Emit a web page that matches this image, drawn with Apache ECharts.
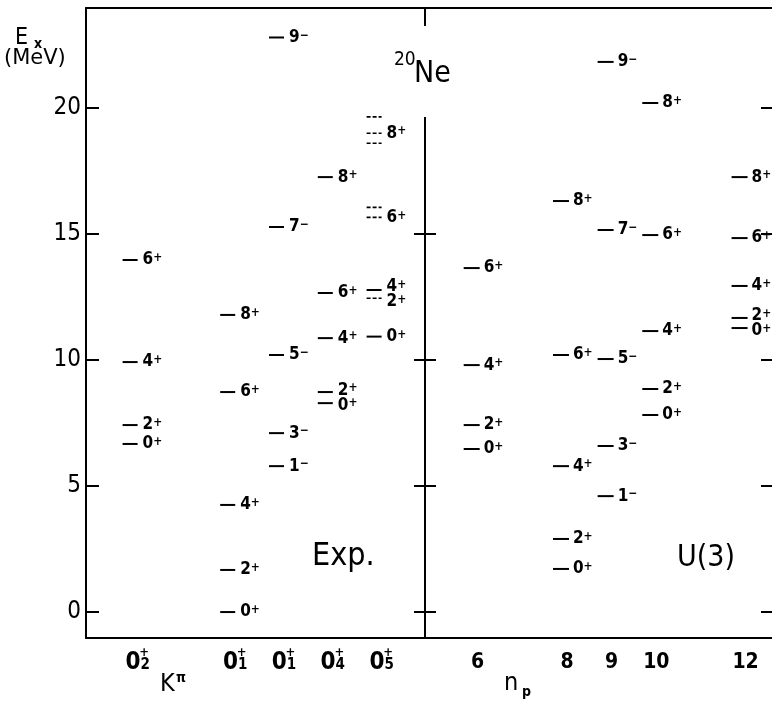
<!DOCTYPE html>
<html><head><meta charset="utf-8">
<script src="https://cdn.jsdelivr.net/npm/echarts@6/dist/echarts.min.js"></script>
<style>html,body{margin:0;padding:0;background:#fff}#c{width:772px;height:702px}</style>
</head><body><div id="c"></div>
<script>
// ---------------- data ----------------
const yTicks = [0, 5, 10, 15, 20];
// K^pi band categories of the experimental panel ('' = empty slot)
const expBands = ['0₂⁺', '', '0₁⁺', '0₁⁺', '0₄⁺', '0₅⁺'];
// experimental levels: [band index, Ex (MeV), spin-parity ('' = no label), dashed]
const expLevels = [
  [0, 6.67, '0+', 0], [0, 7.42, '2+', 0], [0, 9.92, '4+', 0], [0, 13.97, '6+', 0],
  [2, 0.00, '0+', 0], [2, 1.67, '2+', 0], [2, 4.25, '4+', 0], [2, 8.73, '6+', 0], [2, 11.79, '8+', 0],
  [3, 5.79, '1-', 0], [3, 7.10, '3-', 0], [3, 10.20, '5-', 0], [3, 15.28, '7-', 0], [3, 22.80, '9-', 0],
  [4, 8.29, '0+', 0], [4, 8.73, '2+', 0], [4, 10.87, '4+', 0], [4, 12.66, '6+', 0], [4, 17.26, '8+', 0],
  [5, 10.93, '0+', 0], [5, 12.45, '2+', 1], [5, 12.78, '4+', 0], [5, 15.66, '6+', 1], [5, 16.06, '', 1],
  [5, 18.60, '', 1], [5, 19.00, '8+', 1], [5, 19.65, '', 1]
];
// U(3) columns (n_p) and levels: [n_p, Ex (MeV), spin-parity]
const npValues = [6, 8, 9, 10, 12];
const u3Levels = [
  [6, 6.47, '0+'], [6, 7.42, '2+'], [6, 9.80, '4+'], [6, 13.65, '6+'],
  [8, 1.71, '0+'], [8, 2.90, '2+'], [8, 5.79, '4+'], [8, 10.20, '6+'], [8, 16.31, '8+'],
  [9, 4.60, '1-'], [9, 6.59, '3-'], [9, 10.04, '5-'], [9, 15.16, '7-'], [9, 21.83, '9-'],
  [10, 7.82, '0+'], [10, 8.85, '2+'], [10, 11.15, '4+'], [10, 14.96, '6+'], [10, 20.20, '8+'],
  [12, 11.27, '0+'], [12, 11.67, '2+'], [12, 12.94, '4+'], [12, 14.84, '6+'], [12, 17.26, '8+']
];

// ---------------- layout / style ----------------
const FONT = "'Liberation Sans Narrow','DejaVu Sans Condensed','DejaVu Sans',sans-serif";
const Y_MIN = -1.03, Y_MAX = 23.97;
const TOP = 8, H = 630;
const subMap = {'₀':'0','₁':'1','₂':'2','₃':'3','₄':'4','₅':'5','₆':'6','₇':'7','₈':'8','₉':'9'};
const supMap = {'⁺':'+','⁻':'−'};
function bandParts(s) {
  if (!s) return null;
  const ch = Array.from(s);
  return {base: ch[0], sub: subMap[ch[1]], sup: supMap[ch[2]]};
}
const levelRich = {
  n: {fontSize: 17, fontWeight: 'bold', fontFamily: FONT, lineHeight: 16, fill: '#000'},
  s: {fontSize: 12, fontWeight: 'bold', fontFamily: FONT, lineHeight: 7, verticalAlign: 'top', fill: '#000'}
};
function levelRenderer(levels, dashL, dashR, gap) {
  return function (params, api) {
    const lv = levels[params.dataIndex];
    const p = api.coord([api.value(0), api.value(1)]);
    const pxPerMeV = api.size([0, 1])[1];
    let dy = 0;
    if (lv[2]) {
      for (const o of levels) {
        if (o === lv || o[0] !== lv[0] || !o[2]) continue;
        const d = (lv[1] - o[1]) * pxPerMeV;
        if (Math.abs(d) < 15) dy += (d > 0 ? -1 : 1) * (15 - Math.abs(d)) / 2;
      }
    }
    const children = [{
      type: 'line',
      shape: {x1: p[0] + dashL, y1: p[1], x2: p[0] + dashR, y2: p[1]},
      style: lv[3] ? {stroke: '#000', lineWidth: 1.6, lineDash: [4, 2]} : {stroke: '#000', lineWidth: 2}
    }];
    if (lv[2]) {
      const sign = lv[2][1] === '+' ? '+' : '−';
      children.push({
        type: 'text',
        style: {
          x: p[0] + dashR + gap, y: p[1] + dy,
          text: '{n|' + lv[2][0] + '}{s|' + sign + '}',
          rich: levelRich, fill: '#000', align: 'left', verticalAlign: 'middle'
        }
      });
    }
    return {type: 'group', children};
  };
}
const tickFmt = v => (yTicks.indexOf(v) >= 0 ? String(v) : '');
const hiddenY = gi => ({type: 'value', gridIndex: gi, min: Y_MIN, max: Y_MAX, show: false});

const chart = echarts.init(document.getElementById('c'));
chart.setOption({
  animation: false,
  backgroundColor: '#fff',
  grid: [
    {left: 86, top: TOP, width: 686, height: H},
    {left: 113.2, top: TOP, width: 292.8, height: H},
    {left: 410.7, top: TOP, width: 357.2, height: H}
  ],
  xAxis: [
    {type: 'value', gridIndex: 0, min: 0, max: 1, position: 'bottom',
      axisLine: {show: true, onZero: false, lineStyle: {color: '#000', width: 2}},
      axisTick: {show: false}, axisLabel: {show: false}, splitLine: {show: false}},
    {type: 'value', gridIndex: 0, min: 0, max: 1, position: 'top',
      axisLine: {show: true, onZero: false, lineStyle: {color: '#000', width: 2}},
      axisTick: {show: false}, axisLabel: {show: false}, splitLine: {show: false}},
    {type: 'category', gridIndex: 1, data: expBands, position: 'bottom',
      axisLine: {show: false, onZero: false}, axisTick: {show: false}, splitLine: {show: false},
      axisLabel: {interval: 0, margin: 15, color: '#000',
        formatter: v => { const b = bandParts(v); return b ? '{z|' + b.base + '}{s|' + b.sub + '}' : ''; },
        rich: {
          z: {fontSize: 24, fontWeight: 'bold', fontFamily: FONT, lineHeight: 20, color: '#000'},
          s: {fontSize: 15, fontWeight: 'bold', fontFamily: FONT, lineHeight: 12, verticalAlign: 'bottom', color: '#000'}
        }}},
    {type: 'category', gridIndex: 1, data: expBands, position: 'bottom',
      axisLine: {show: false, onZero: false}, axisTick: {show: false}, splitLine: {show: false},
      axisLabel: {interval: 0, margin: 10, color: '#000',
        formatter: v => { const b = bandParts(v); return b ? '{p|' + b.sup + '}' : ''; },
        rich: {p: {fontSize: 13, fontWeight: 'bold', fontFamily: FONT, lineHeight: 10, padding: [0, 0, 0, 13], color: '#000'}}}},
    {type: 'value', gridIndex: 2, min: 4.5, max: 12.5, position: 'bottom',
      axisLine: {show: false, onZero: false}, axisTick: {show: false}, splitLine: {show: false},
      axisLabel: {customValues: npValues, margin: 14, color: '#000', fontSize: 21, fontWeight: 'bold', fontFamily: FONT,
        formatter: v => (npValues.indexOf(v) >= 0 ? String(v) : '')}}
  ],
  yAxis: [
    {type: 'value', gridIndex: 0, min: Y_MIN, max: Y_MAX, position: 'left',
      axisLine: {show: true, onZero: false, lineStyle: {color: '#000', width: 2}},
      axisTick: {show: true, inside: true, length: 13, customValues: yTicks, lineStyle: {color: '#000', width: 2}},
      axisLabel: {customValues: yTicks, formatter: tickFmt,
        margin: 5, color: '#000', fontSize: 24, fontFamily: FONT},
      splitLine: {show: false}},
    {type: 'value', gridIndex: 0, min: Y_MIN, max: Y_MAX, position: 'left', offset: -339,
      axisLine: {show: true, onZero: false, lineStyle: {color: '#000', width: 2}},
      axisTick: {show: true, inside: true, length: 11, customValues: yTicks, lineStyle: {color: '#000', width: 2}},
      axisLabel: {show: false}, splitLine: {show: false}},
    {type: 'value', gridIndex: 0, min: Y_MIN, max: Y_MAX, position: 'left', offset: -339,
      axisLine: {show: false, onZero: false},
      axisTick: {show: true, inside: false, length: 11, customValues: yTicks, lineStyle: {color: '#000', width: 2}},
      axisLabel: {show: false}, splitLine: {show: false}},
    {type: 'value', gridIndex: 0, min: Y_MIN, max: Y_MAX, position: 'right',
      axisLine: {show: false, onZero: false},
      axisTick: {show: true, inside: true, length: 11, customValues: yTicks, lineStyle: {color: '#000', width: 2}},
      axisLabel: {show: false}, splitLine: {show: false}},
    hiddenY(1),
    hiddenY(2)
  ],
  graphic: [
    {type: 'rect', z: 100, shape: {x: 412, y: 26, width: 26, height: 91}, style: {fill: '#fff'}},
    {type: 'text', z: 101, style: {x: 394, y: 60, text: '20', fontSize: 19, fontFamily: FONT, fill: '#000', verticalAlign: 'middle'}},
    {type: 'text', z: 101, style: {x: 414, y: 74, text: 'Ne', fontSize: 30, fontFamily: FONT, fill: '#000', verticalAlign: 'middle'}},
    {type: 'text', z: 101, style: {x: 15, y: 38, text: 'E', fontSize: 23, fontFamily: FONT, fill: '#000', verticalAlign: 'middle'}},
    {type: 'text', z: 101, style: {x: 34, y: 44, text: 'x', fontSize: 14, fontWeight: 'bold', fontFamily: FONT, fill: '#000', verticalAlign: 'middle'}},
    {type: 'text', z: 101, style: {x: 4, y: 59, text: '(MeV)', fontSize: 21, fontFamily: "'DejaVu Sans',sans-serif", fill: '#000', verticalAlign: 'middle'}},
    {type: 'text', z: 101, style: {x: 312, y: 557, text: 'Exp.', fontSize: 32, fontFamily: FONT, fill: '#000', verticalAlign: 'middle'}},
    {type: 'text', z: 101, style: {x: 677, y: 558, text: 'U(3)', fontSize: 30, fontFamily: FONT, fill: '#000', verticalAlign: 'middle'}},
    {type: 'text', z: 101, style: {x: 160, y: 684, text: 'K', fontSize: 25, fontFamily: FONT, fill: '#000', verticalAlign: 'middle'}},
    {type: 'text', z: 101, style: {x: 176, y: 678, text: 'π', fontSize: 14, fontWeight: 'bold', fontFamily: FONT, fill: '#000', verticalAlign: 'middle'}},
    {type: 'text', z: 101, style: {x: 504, y: 683, text: 'n', fontSize: 25, fontFamily: FONT, fill: '#000', verticalAlign: 'middle'}},
    {type: 'text', z: 101, style: {x: 522, y: 692, text: 'p', fontSize: 14, fontWeight: 'bold', fontFamily: FONT, fill: '#000', verticalAlign: 'middle'}}
  ],
  series: [
    {type: 'custom', name: 'Exp.', xAxisIndex: 2, yAxisIndex: 4, clip: false,
      renderItem: levelRenderer(expLevels, -15, 0, 5),
      data: expLevels.map(l => [l[0], l[1]])},
    {type: 'custom', name: 'U(3)', xAxisIndex: 4, yAxisIndex: 5, clip: false,
      renderItem: levelRenderer(u3Levels, -14, 2, 4),
      data: u3Levels.map(l => [l[0], l[1]])}
  ]
});
</script></body></html>
